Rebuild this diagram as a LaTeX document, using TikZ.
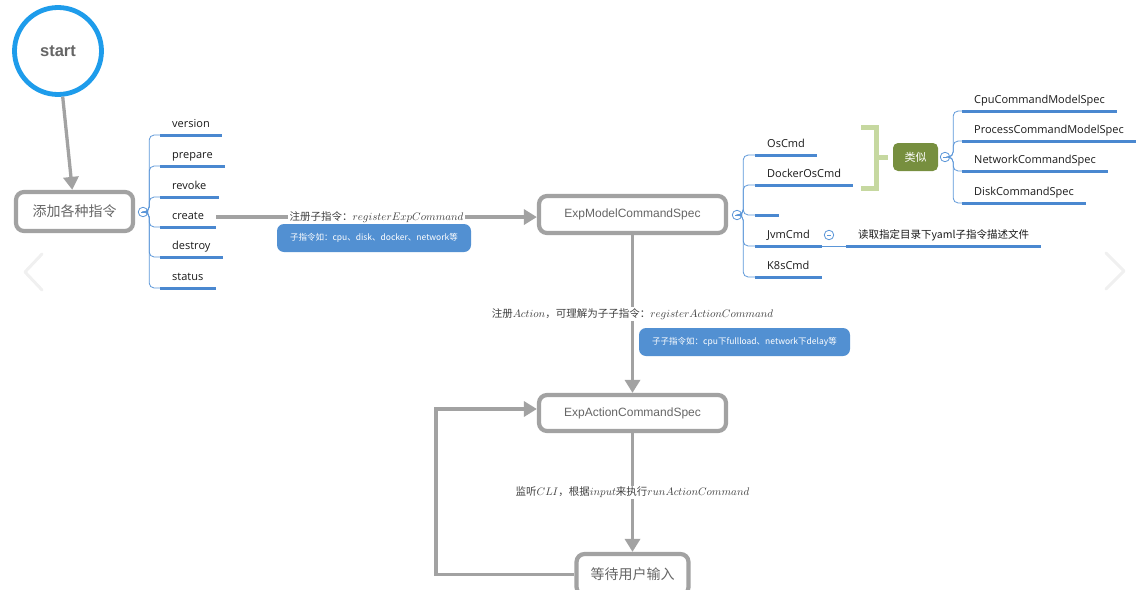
\documentclass[tikz,border=0pt]{standalone}
\usepackage{fontspec}
\setmainfont{Open Sans}
\newfontfamily\cjk{Noto Sans CJK SC}
\newfontfamily\boxf{Liberation Sans}
\usetikzlibrary{arrows.meta}

\definecolor{startblue}{HTML}{1E9CEB}
\definecolor{linegray}{HTML}{A2A2A2}
\definecolor{textgray}{HTML}{666666}
\definecolor{branchblue}{HTML}{5B96D8}
\definecolor{ulblue}{HTML}{4A88D0}
\definecolor{hintblue}{HTML}{5290D2}
\definecolor{bracketgreen}{HTML}{C6D8A0}
\definecolor{simgreen}{HTML}{778F3F}

\def\ul{3pt}
\def\bw{4.2pt}

\begin{document}
\begin{tikzpicture}[x=1pt, y=-1pt,
	box/.style={rectangle,rounded corners=8pt,draw=linegray,line width=\bw,fill=white,text=textgray,inner sep=0},
	arr/.style={draw=linegray,line width=3.3pt,-{Triangle[length=13pt,width=15pt]}},
	item/.style={anchor=south west,inner xsep=12pt,inner ysep=4.5pt,text height=8pt,text depth=2.5pt,font=\fontsize{11}{13}\selectfont,text=black!90},
	branch/.style={draw=branchblue,line width=0.8pt,rounded corners=5pt},
	uline/.style={draw=ulblue,line width=\ul},
	fold/.style={circle,draw=branchblue,fill=white,line width=0.8pt,minimum size=9.5pt,inner sep=0,path picture={\draw[branchblue,line width=0.8pt] ([xshift=2.5pt]path picture bounding box.west) -- ([xshift=-2.5pt]path picture bounding box.east);}},
	hint/.style={rectangle,rounded corners=7pt,fill=hintblue,text=white,inner sep=0,minimum height=28pt,font=\cjk\fontsize{8.5}{10}\selectfont},
	lbl/.style={fill=white,inner sep=1.5pt,text=black!75,font=\cjk\fontsize{10.5}{12}\selectfont},
	chev/.style={draw=black!6,line width=3pt,line cap=round,line join=round}]
	
	\useasboundingbox (0,0) rectangle (1145,589);
	
	\node (ST) at (58,51) [circle,draw=startblue,line width=4.8pt,minimum size=87pt,fill=white,text=textgray,font=\boxf\bfseries\fontsize{16.5}{18}\selectfont] {start};
	\node (ADD) at (74.5,211.5) [box,minimum width=117pt,minimum height=39pt,font=\cjk\fontsize{14}{16}\selectfont] {添加各种指令};
	\node (F1) at (143,212) [fold] {};
	
	\node (VER) at (160,135) [item] {version};
	\node (PRE) at (160,166) [item] {prepare};
	\node (REV) at (160,197) [item] {revoke};
	\node (CRE) at (160,227) [item] {create};
	\node (DES) at (160,257) [item] {destroy};
	\node (STA) at (160,288) [item] {status};
	
	\draw[uline] (VER.south west) to (VER.south east);
	\draw[uline] (PRE.south west) to (PRE.south east);
	\draw[uline] (REV.south west) to (REV.south east);
	\draw[uline] (CRE.south west) to (CRE.south east);
	\draw[uline] (DES.south west) to (DES.south east);
	\draw[uline] (STA.south west) to (STA.south east);
	
	\draw[branch] (F1.east) -- ++(1,0) |- (VER.south west);
	\draw[branch] (F1.east) -- ++(1,0) |- (PRE.south west);
	\draw[branch] (F1.east) -- ++(1,0) |- (REV.south west);
	\draw[branch] (F1.east) -- ++(1,0) |- (CRE.south west);
	\draw[branch] (F1.east) -- ++(1,0) |- (DES.south west);
	\draw[branch] (F1.east) -- ++(1,0) |- (STA.south west);
	
	\node (EMC) at (632.5,214.5) [box,minimum width=187pt,minimum height=37pt,font=\boxf\fontsize{12}{14}\selectfont] {ExpModelCommandSpec};
	\node (F2) at (737,215) [fold] {};
	
	\node (OS) at (755,155) [item] {OsCmd};
	\node (DOS) at (755,185) [item] {DockerOsCmd};
	\node (EMP) at (755,215) [item] {};
	\node (JVM) at (755,246) [item] {JvmCmd};
	\node (K8S) at (755,277) [item] {K8sCmd};
	
	\draw[uline] (OS.south west) to (OS.south east);
	\draw[uline] (DOS.south west) to (DOS.south east);
	\draw[uline] (EMP.south west) to (EMP.south east);
	\draw[uline] (JVM.south west) to (JVM.south east);
	\draw[uline] (K8S.south west) to (K8S.south east);
	
	\draw[branch] (F2.east) -- ++(1,0) |- (OS.south west);
	\draw[branch] (F2.east) -- ++(1,0) |- (DOS.south west);
	\draw[branch] (F2.east) -- ++(1,0) |- (EMP.south west);
	\draw[branch] (F2.east) -- ++(1,0) |- (JVM.south west);
	\draw[branch] (F2.east) -- ++(1,0) |- (K8S.south west);
	
	\node (F4) at (829,235) [fold] {};
	\node (RD) at (846,246) [item,font=\cjk\fontsize{10.5}{12}\selectfont] {读取指定目录下yaml子指令描述文件};
	\draw[uline] (RD.south west) to (RD.south east);
	\draw[branch] (JVM.south east) to (RD.south west);
	
	\coordinate (BT) at (861,127);
	\coordinate (BB) at (861,188);
	\coordinate (BM) at (876,157);
	\node (SIM) at (915.5,157) [rectangle,rounded corners=5pt,fill=simgreen,text=white,inner sep=0,minimum width=45pt,minimum height=28pt,font=\cjk\fontsize{11}{13}\selectfont] {类似};
	\draw[bracketgreen,line width=5pt] (BT) -- ++(15,0) |- (BB);
	\draw[bracketgreen,line width=5pt] (BM) to ([xshift=-5pt]SIM.west);
	\node (F3) at (945,157) [fold] {};
	
	\node (CPU) at (962,111) [item] {CpuCommandModelSpec};
	\node (PRO) at (962,141) [item] {ProcessCommandModelSpec};
	\node (NET) at (962,171) [item] {NetworkCommandSpec};
	\node (DSK) at (962,203) [item] {DiskCommandSpec};
	
	\draw[uline] (CPU.south west) to (CPU.south east);
	\draw[uline] (PRO.south west) to (PRO.south east);
	\draw[uline] (NET.south west) to (NET.south east);
	\draw[uline] (DSK.south west) to (DSK.south east);
	
	\draw[branch] (F3.east) -- ++(3,0) |- (CPU.south west);
	\draw[branch] (F3.east) -- ++(3,0) |- (PRO.south west);
	\draw[branch] (F3.east) -- ++(3,0) |- (NET.south west);
	\draw[branch] (F3.east) -- ++(3,0) |- (DSK.south west);
	
	\node (EAC) at (632.5,413) [box,minimum width=187pt,minimum height=36pt,font=\boxf\fontsize{12}{14}\selectfont] {ExpActionCommandSpec};
	\node (WAIT) at (632.5,574.5) [box,minimum width=112pt,minimum height=41pt,font=\cjk\fontsize{14}{16}\selectfont] {等待用户输入};
	\coordinate (LP) at (436,574.5);
	
	\draw[arr] (ST) to (ADD);
	\draw[arr] (CRE.east) to node[lbl] {注册子指令：$registerExpCommand$} (CRE.east -| EMC.west);
	\draw[arr] (EMC) to node[lbl] {注册$Action$，可理解为子子指令：$registerActionCommand$} (EAC);
	\draw[arr] (EAC) to node[lbl] {监听$CLI$，根据$input$来执行$runActionCommand$} (WAIT);
	\draw[arr] (WAIT.west) -| (LP) |- ([yshift=4pt]EAC.west);
	
	\node (H1) at (374,238) [hint,minimum width=194pt] {子指令如：cpu、disk、docker、network等};
	\node (H2) at (744.5,342) [hint,minimum width=211pt] {子子指令如：cpu下fullload、network下delay等};
	
	\coordinate (LA) at (42,254);
	\coordinate (LB) at (25,272);
	\coordinate (LC) at (42,290);
	\coordinate (RA) at (1106,253);
	\coordinate (RB) at (1124,271);
	\coordinate (RC) at (1106,289);
	\draw[chev] (LA) -- (LB) -- (LC);
	\draw[chev] (RA) -- (RB) -- (RC);
	
\end{tikzpicture}
\end{document}
